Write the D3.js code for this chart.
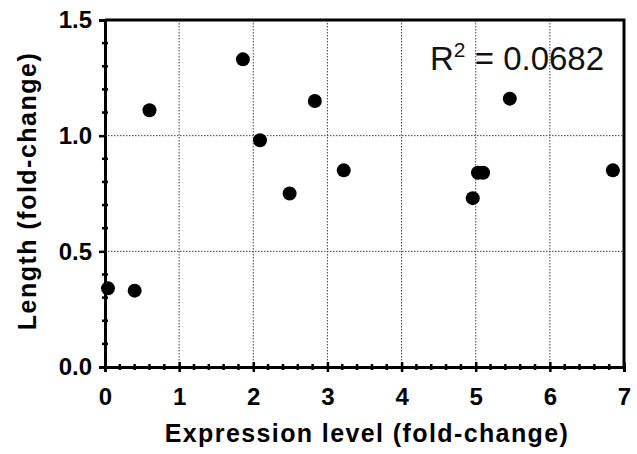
<!DOCTYPE html>
<html>
<head>
<meta charset="utf-8">
<script src="https://cdn.jsdelivr.net/npm/d3@7"></script>
<style>
  body { margin: 0; background: #fff; }
  svg { font-family: "Liberation Sans", Arial, sans-serif; }
</style>
</head>
<body>
<svg id="chart" width="637" height="454"></svg>
<script>
// expression level (x) and length (y), fold-change
const expression = [0.04, 0.40, 0.60, 1.86, 2.09, 2.49, 2.83, 3.22, 4.96, 5.03, 5.10, 5.46, 6.85]
const length = [0.34, 0.33, 1.11, 1.33, 0.98, 0.75, 1.15, 0.85, 0.73, 0.84, 0.84, 1.16, 0.85]
const xTicks = [0, 1, 2, 3, 4, 5, 6, 7]
const yTicks = [0.0, 0.5, 1.0, 1.5]
const rSquared = '0.0682'

const svg = d3.select('#chart')
const width = 637, height = 454
const margin = { top: 20, right: 13, bottom: 87, left: 105 }
const contentWidth = width - margin.left - margin.right
const contentHeight = height - margin.top - margin.bottom

const g = svg.append('g')
    .attr('transform', `translate(${margin.left},${margin.top})`)

const x = d3.scaleLinear().domain([0, 7]).range([0, contentWidth])
const y = d3.scaleLinear().domain([0, 1.5]).range([contentHeight, 0])

// dotted grid
g.append('g')
    .selectAll('line')
    .data(xTicks.slice(1, -1))
    .join('line')
    .attr('x1', d => x(d)).attr('x2', d => x(d))
    .attr('y1', 0).attr('y2', contentHeight)
    .attr('stroke', '#444').attr('stroke-width', 1).attr('stroke-dasharray', '1.5,1.5')

g.append('g')
    .selectAll('line')
    .data(yTicks.slice(1, -1))
    .join('line')
    .attr('x1', 0).attr('x2', contentWidth)
    .attr('y1', d => y(d)).attr('y2', d => y(d))
    .attr('stroke', '#444').attr('stroke-width', 1).attr('stroke-dasharray', '1.5,1.5')

// frame top and right
g.append('path')
    .attr('d', `M0,0H${contentWidth}V${contentHeight}`)
    .attr('fill', 'none').attr('stroke', '#000').attr('stroke-width', 3)

// minor ticks
const xMinor = d3.range(0, 7.001, 0.2).filter(v => Math.abs(v - Math.round(v)) > 1e-6)
g.append('g').selectAll('line').data(xMinor).join('line')
    .attr('x1', d => x(d)).attr('x2', d => x(d))
    .attr('y1', contentHeight - 3).attr('y2', contentHeight + 3)
    .attr('stroke', '#000').attr('stroke-width', 2.5)

const yMinor = d3.range(0, 1.5001, 0.1).filter(v => Math.abs(v * 2 - Math.round(v * 2)) > 1e-6)
g.append('g').selectAll('line').data(yMinor).join('line')
    .attr('x1', -3).attr('x2', 3)
    .attr('y1', d => y(d)).attr('y2', d => y(d))
    .attr('stroke', '#000').attr('stroke-width', 2.5)

// x axis
const xAxis = g.append('g')
    .attr('transform', `translate(0,${contentHeight})`)
    .call(d3.axisBottom(x).tickValues(xTicks).tickFormat(d3.format('d')).tickSize(5).tickPadding(16))
xAxis.select('.domain').attr('stroke-width', 3)
xAxis.selectAll('.tick line').attr('stroke-width', 2.5).attr('y1', -5)
xAxis.selectAll('.tick text')
    .style('font-size', '24px').style('font-weight', 'bold').attr('fill', '#000')

// y axis
const yAxis = g.append('g')
    .call(d3.axisLeft(y).tickValues(yTicks).tickFormat(d3.format('.1f')).tickSize(6).tickPadding(7))
yAxis.select('.domain').attr('stroke-width', 3)
yAxis.selectAll('.tick line').attr('stroke-width', 2.5)
yAxis.selectAll('.tick text')
    .style('font-size', '24px').style('font-weight', 'bold').attr('fill', '#000')

// points
g.append('g')
    .selectAll('circle')
    .data(expression.map((v, i) => [v, length[i]]))
    .join('circle')
    .attr('cx', d => x(d[0]))
    .attr('cy', d => y(d[1]))
    .attr('r', 7)
    .attr('fill', '#000')

// r squared label
const label = svg.append('text')
    .attr('x', 430)
    .attr('y', 70)
    .style('font-size', '33px')
    .attr('fill', '#111')
label.append('tspan').text('R')
label.append('tspan').attr('dy', -13).style('font-size', '21px').text('2')
label.append('tspan').attr('dy', 13).text(' = ' + rSquared)

// axis titles
svg.append('text')
    .attr('x', 367)
    .attr('y', 442)
    .attr('text-anchor', 'middle')
    .style('font-size', '25px')
    .style('font-weight', 'bold')
    .style('letter-spacing', '1.4px')
    .text('Expression level (fold-change)')

svg.append('text')
    .attr('transform', `translate(36,191) rotate(-90)`)
    .attr('text-anchor', 'middle')
    .style('font-size', '25px')
    .style('font-weight', 'bold')
    .style('letter-spacing', '1.5px')
    .text('Length (fold-change)')
</script>
</body>
</html>
